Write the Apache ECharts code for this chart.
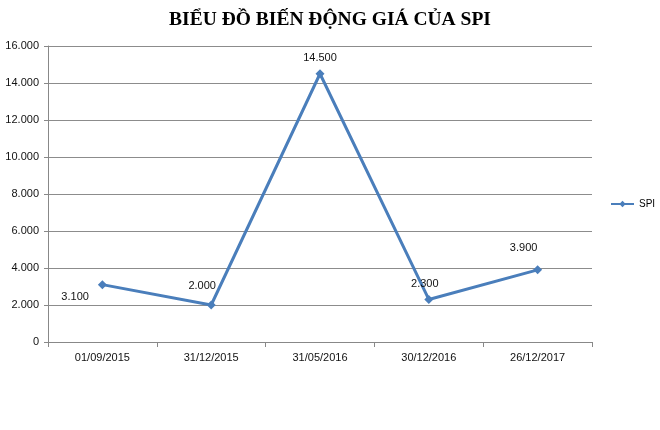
<!DOCTYPE html>
<html><head><meta charset="utf-8">
<script src="https://cdn.jsdelivr.net/npm/echarts@6/dist/echarts.min.js"></script>
<style>html,body{margin:0;padding:0;background:#fff}#c{width:660px;height:430px}</style>
</head><body><div id="c"></div>
<script>
const titleText = "BIỂU ĐỒ BIẾN ĐỘNG GIÁ CỦA SPI";
const seriesName = "SPI";
const categories = ["01/09/2015", "31/12/2015", "31/05/2016", "30/12/2016", "26/12/2017"];
const spiValues = [3100, 2000, 14500, 2300, 3900];

function fmt(v) {
  return String(v).replace(/\B(?=(\d{3})+(?!\d))/g, ".");
}
// label placement per point (layout, not data)
const labelLayout = [
  {position: "left", offset: [-4, 12]},
  {position: "top", offset: [-9, -4]},
  {position: "top", offset: [0, -1]},
  {position: "top", offset: [-4, 0]},
  {position: "top", offset: [-14, -7]}
];

const chart = echarts.init(document.getElementById("c"));
chart.setOption({
  animation: false,
  title: {
    text: titleText, left: "center", top: 5,
    textStyle: {fontFamily: "Liberation Serif", fontWeight: "bold", fontSize: 19.5, color: "#000"}
  },
  legend: {
    data: [seriesName], orient: "vertical", left: 605, top: 194,
    itemWidth: 23, itemHeight: 8, itemGap: 4,
    textStyle: {fontFamily: "Liberation Sans", fontSize: 10, color: "#000"}
  },
  grid: {left: 48, right: 68, top: 46, bottom: 88, containLabel: false},
  xAxis: {
    type: "category", data: categories, boundaryGap: true,
    axisLine: {lineStyle: {color: "#888", width: 1}},
    axisTick: {show: true, length: 5, lineStyle: {color: "#888"}},
    axisLabel: {fontFamily: "Liberation Sans", fontSize: 11, color: "#111", margin: 10}
  },
  yAxis: {
    type: "value", min: 0, max: 16000, interval: 2000,
    axisLine: {show: true, lineStyle: {color: "#888", width: 1}},
    axisTick: {show: true, length: 4, lineStyle: {color: "#888"}},
    splitLine: {lineStyle: {color: "#8c8c8c", width: 1}},
    axisLabel: {fontFamily: "Liberation Sans", fontSize: 11, color: "#111", margin: 9, formatter: v => fmt(v)}
  },
  series: [{
    name: seriesName, type: "line",
    data: spiValues.map((v, i) => ({value: v, label: labelLayout[i]})),
    symbol: "diamond", symbolSize: 9,
    lineStyle: {color: "#4a7ebb", width: 3},
    itemStyle: {color: "#4a7ebb"},
    label: {show: true, formatter: p => fmt(p.value), fontFamily: "Liberation Sans", fontSize: 11, color: "#111"}
  }]
});
</script></body></html>
